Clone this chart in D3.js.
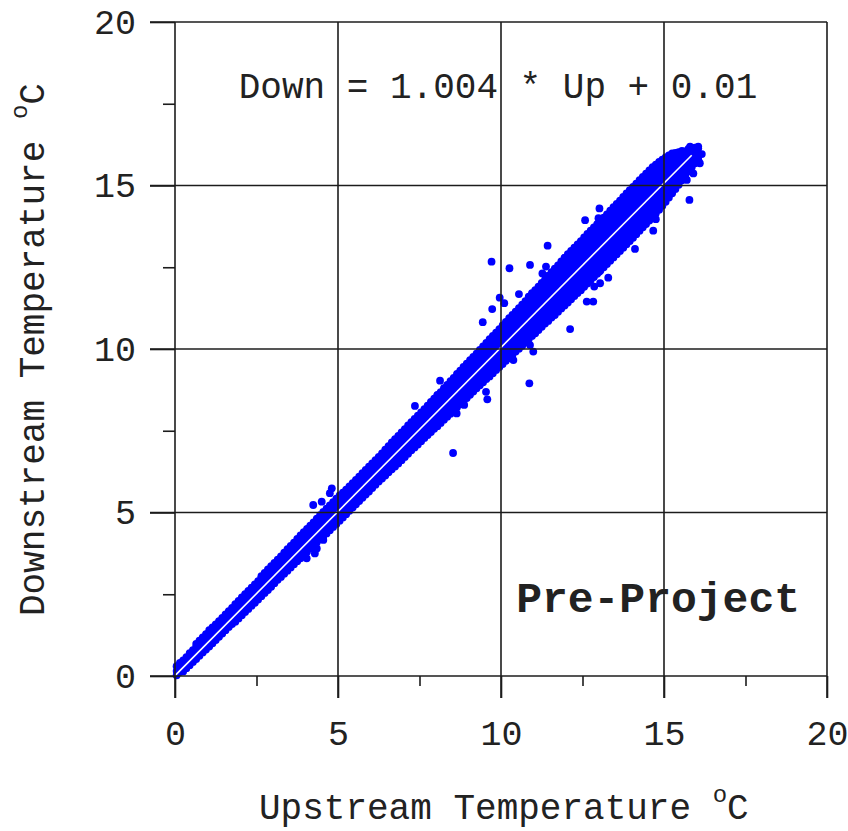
<!DOCTYPE html>
<html>
<head>
<meta charset="utf-8">
<script src="https://cdn.jsdelivr.net/npm/d3@7"></script>
<style>
  body { margin: 0; background: #fff; }
  text { font-family: "Liberation Mono", "Courier New", monospace; fill: #222; }
</style>
</head>
<body>
<script>
const width = 848;
const height = 831;

const majorTicks = [0, 5, 10, 15, 20];
const minorTicks = [2.5, 7.5, 12.5, 17.5];

// regression shown on the chart: Down = 1.004 * Up + 0.01
const slope = 1.004;
const intercept = 0.01;
const fitRange = [0, 15.85];

// each row: upstream value, then the downstream values seen at it
const bandRows = [
  [0.05, 0.02, 0.15, 0.3],
  [0.25, 0.14, 0.3, 0.48],
  [0.45, 0.33, 0.5, 0.7],
  [0.65, 0.52, 0.7, 0.88, 0.98],
  [0.85, 0.72, 0.9, 1.06, 1.18],
  [1.05, 0.9, 1.08, 1.25, 1.4],
  [1.25, 1.1, 1.28, 1.45, 1.58],
  [1.45, 1.3, 1.47, 1.63, 1.78],
  [1.65, 1.5, 1.66, 1.84, 1.98],
  [1.85, 1.66, 1.85, 2.03, 2.2],
  [2.05, 1.86, 2.04, 2.22, 2.4],
  [2.25, 2.05, 2.24, 2.42, 2.6],
  [2.45, 2.24, 2.42, 2.6, 2.8],
  [2.65, 2.44, 2.62, 2.8, 3.0, 3.05],
  [2.85, 2.63, 2.82, 3.0, 3.18, 3.26],
  [3.05, 2.84, 3.02, 3.2, 3.38, 3.46],
  [3.25, 3.03, 3.22, 3.4, 3.58, 3.66],
  [3.45, 3.22, 3.42, 3.6, 3.78, 3.88],
  [3.65, 3.42, 3.62, 3.8, 3.98, 4.08],
  [3.85, 3.6, 3.8, 4.0, 4.18, 4.3],
  [4.05, 3.8, 4.0, 4.2, 4.38, 4.5],
  [4.25, 4.0, 4.2, 4.4, 4.58, 4.7],
  [4.45, 4.18, 4.4, 4.6, 4.78, 4.92],
  [4.65, 4.36, 4.58, 4.8, 5.0, 5.12],
  [4.85, 4.56, 4.78, 5.0, 5.2, 5.32],
  [5.05, 4.75, 4.96, 5.18, 5.38, 5.52],
  [5.25, 4.95, 5.16, 5.38, 5.58, 5.7],
  [5.45, 5.15, 5.36, 5.58, 5.78, 5.9],
  [5.65, 5.35, 5.56, 5.78, 5.98, 6.1],
  [5.85, 5.55, 5.76, 5.98, 6.18, 6.3],
  [6.05, 5.75, 5.96, 6.18, 6.38, 6.5],
  [6.25, 5.95, 6.16, 6.38, 6.58, 6.7],
  [6.45, 6.13, 6.36, 6.58, 6.78, 6.92],
  [6.65, 6.32, 6.55, 6.78, 6.98, 7.14],
  [6.85, 6.5, 6.74, 6.96, 7.18, 7.34],
  [7.05, 6.7, 6.94, 7.16, 7.38, 7.55],
  [7.25, 6.9, 7.12, 7.35, 7.58, 7.76],
  [7.45, 7.08, 7.3, 7.55, 7.78, 7.96],
  [7.65, 7.28, 7.5, 7.74, 7.98, 8.16],
  [7.85, 7.46, 7.68, 7.92, 8.16, 8.38],
  [8.05, 7.64, 7.86, 8.1, 8.34, 8.58, 8.6],
  [8.25, 7.84, 8.06, 8.3, 8.54, 8.76, 8.8],
  [8.45, 8.02, 8.25, 8.5, 8.74, 8.96, 9.02],
  [8.65, 8.22, 8.45, 8.7, 8.94, 9.16, 9.24],
  [8.85, 8.4, 8.64, 8.88, 9.12, 9.36, 9.45],
  [9.05, 8.6, 8.84, 9.08, 9.32, 9.56, 9.66],
  [9.25, 8.8, 9.04, 9.28, 9.52, 9.76, 9.86],
  [9.45, 8.98, 9.22, 9.46, 9.7, 9.94, 10.08],
  [9.65, 9.16, 9.4, 9.64, 9.9, 10.14, 10.3],
  [9.85, 9.36, 9.6, 9.84, 10.1, 10.34, 10.5],
  [10.05, 9.54, 9.78, 10.04, 10.28, 10.52, 10.72],
  [10.25, 9.72, 9.96, 10.22, 10.48, 10.72, 10.94],
  [10.45, 9.92, 10.16, 10.42, 10.68, 10.92, 11.14],
  [10.65, 10.1, 10.34, 10.6, 10.86, 11.12, 11.36],
  [10.85, 10.3, 10.54, 10.8, 11.06, 11.32, 11.56, 11.6],
  [11.05, 10.48, 10.72, 10.98, 11.24, 11.5, 11.74, 11.8],
  [11.25, 10.68, 10.92, 11.18, 11.44, 11.7, 11.94, 12.02],
  [11.45, 10.86, 11.1, 11.36, 11.62, 11.88, 12.14, 12.24],
  [11.65, 11.04, 11.3, 11.56, 11.82, 12.08, 12.34, 12.46],
  [11.85, 11.24, 11.48, 11.74, 12.0, 12.26, 12.52, 12.68],
  [12.05, 11.42, 11.68, 11.94, 12.2, 12.46, 12.72, 12.9],
  [12.25, 11.62, 11.86, 12.12, 12.38, 12.64, 12.9, 13.1],
  [12.45, 11.8, 12.06, 12.32, 12.58, 12.84, 13.1, 13.3],
  [12.65, 12.0, 12.26, 12.52, 12.78, 13.04, 13.3, 13.52],
  [12.85, 12.2, 12.46, 12.72, 12.98, 13.24, 13.5, 13.72],
  [13.05, 12.4, 12.66, 12.92, 13.18, 13.44, 13.7, 13.92],
  [13.25, 12.6, 12.86, 13.12, 13.38, 13.64, 13.9, 14.12],
  [13.45, 12.8, 13.06, 13.32, 13.58, 13.84, 14.1, 14.34],
  [13.65, 13.0, 13.26, 13.52, 13.78, 14.04, 14.3, 14.54],
  [13.85, 13.2, 13.46, 13.72, 13.98, 14.24, 14.5, 14.76],
  [14.05, 13.4, 13.66, 13.92, 14.18, 14.44, 14.7, 14.96],
  [14.25, 13.62, 13.86, 14.12, 14.38, 14.64, 14.9, 15.16],
  [14.45, 13.82, 14.08, 14.32, 14.58, 14.84, 15.1, 15.36],
  [14.65, 14.04, 14.28, 14.52, 14.78, 15.04, 15.3, 15.56],
  [14.85, 14.26, 14.5, 14.74, 14.98, 15.24, 15.5, 15.72],
  [15.05, 14.5, 14.72, 14.96, 15.2, 15.44, 15.68, 15.86],
  [15.25, 14.76, 14.98, 15.2, 15.42, 15.64, 15.86, 15.98],
  [15.45, 15.02, 15.22, 15.44, 15.64, 15.84, 16.02],
  [15.65, 15.3, 15.48, 15.66, 15.86, 16.04],
  [15.85, 15.56, 15.74, 15.92, 16.1],
  [16.05, 15.8, 15.98, 16.14]
];

// readings taken between the rows above
const bandRowsMid = [
  [0.15, 0.12, 0.25, 0.4],
  [0.35, 0.24, 0.4, 0.58],
  [0.55, 0.43, 0.6, 0.79],
  [0.75, 0.62, 0.8, 0.98, 1.08],
  [0.95, 0.81, 1.0, 1.16, 1.28],
  [1.15, 1.0, 1.18, 1.35, 1.49],
  [1.35, 1.2, 1.38, 1.55, 1.68],
  [1.55, 1.4, 1.57, 1.74, 1.88],
  [1.75, 1.59, 1.76, 1.94, 2.08],
  [1.95, 1.76, 1.95, 2.13, 2.3],
  [2.15, 1.96, 2.14, 2.32, 2.5],
  [2.35, 2.15, 2.34, 2.52, 2.7],
  [2.55, 2.34, 2.52, 2.7, 2.9],
  [2.75, 2.54, 2.72, 2.9, 3.1, 3.15],
  [2.95, 2.73, 2.92, 3.1, 3.28, 3.36],
  [3.15, 2.94, 3.12, 3.3, 3.48, 3.56],
  [3.35, 3.13, 3.32, 3.5, 3.68, 3.77],
  [3.55, 3.32, 3.52, 3.7, 3.88, 3.98],
  [3.75, 3.51, 3.72, 3.9, 4.08, 4.19],
  [3.95, 3.7, 3.9, 4.1, 4.28, 4.4],
  [4.15, 3.9, 4.1, 4.3, 4.48, 4.6],
  [4.35, 4.09, 4.3, 4.5, 4.68, 4.81],
  [4.55, 4.28, 4.5, 4.7, 4.88, 5.02],
  [4.75, 4.46, 4.68, 4.9, 5.1, 5.22],
  [4.95, 4.65, 4.88, 5.1, 5.3, 5.42],
  [5.15, 4.85, 5.06, 5.28, 5.48, 5.61],
  [5.35, 5.05, 5.26, 5.48, 5.68, 5.8],
  [5.55, 5.25, 5.46, 5.68, 5.88, 6.0],
  [5.75, 5.45, 5.66, 5.88, 6.08, 6.2],
  [5.95, 5.64, 5.86, 6.08, 6.28, 6.4],
  [6.15, 5.85, 6.06, 6.28, 6.48, 6.6],
  [6.35, 6.04, 6.26, 6.48, 6.68, 6.81],
  [6.55, 6.23, 6.46, 6.68, 6.88, 7.03],
  [6.75, 6.41, 6.65, 6.88, 7.08, 7.24],
  [6.95, 6.6, 6.84, 7.06, 7.28, 7.45],
  [7.15, 6.8, 7.04, 7.26, 7.48, 7.66],
  [7.35, 6.99, 7.22, 7.45, 7.68, 7.86],
  [7.55, 7.18, 7.4, 7.65, 7.88, 8.06],
  [7.75, 7.37, 7.6, 7.84, 8.08, 8.27],
  [7.95, 7.56, 7.78, 8.02, 8.26, 8.48],
  [8.15, 7.74, 7.96, 8.2, 8.44, 8.68],
  [8.35, 7.93, 8.16, 8.4, 8.64, 8.86, 8.9],
  [8.55, 8.12, 8.35, 8.6, 8.84, 9.06, 9.12],
  [8.75, 8.31, 8.55, 8.8, 9.04, 9.26, 9.34],
  [8.95, 8.5, 8.74, 8.98, 9.22, 9.46, 9.55],
  [9.15, 8.7, 8.94, 9.18, 9.42, 9.66, 9.76],
  [9.35, 8.89, 9.14, 9.38, 9.62, 9.86, 9.97],
  [9.55, 9.08, 9.32, 9.56, 9.8, 10.04, 10.19],
  [9.75, 9.26, 9.5, 9.74, 10.0, 10.24, 10.4],
  [9.95, 9.45, 9.7, 9.94, 10.2, 10.44, 10.61],
  [10.15, 9.64, 9.88, 10.14, 10.38, 10.62, 10.83],
  [10.35, 9.82, 10.06, 10.32, 10.58, 10.82, 11.04],
  [10.55, 10.01, 10.26, 10.52, 10.78, 11.02, 11.25],
  [10.75, 10.2, 10.44, 10.7, 10.96, 11.22, 11.46],
  [10.95, 10.4, 10.64, 10.9, 11.16, 11.42, 11.66, 11.71],
  [11.15, 10.58, 10.82, 11.08, 11.34, 11.6, 11.84, 11.91],
  [11.35, 10.78, 11.02, 11.28, 11.54, 11.8, 12.04, 12.12],
  [11.55, 10.96, 11.2, 11.46, 11.72, 11.98, 12.24, 12.35],
  [11.75, 11.14, 11.4, 11.66, 11.92, 12.18, 12.44, 12.56],
  [11.95, 11.33, 11.58, 11.84, 12.1, 12.36, 12.62, 12.79],
  [12.15, 11.52, 11.78, 12.04, 12.3, 12.56, 12.82, 13.0],
  [12.35, 11.71, 11.96, 12.22, 12.48, 12.74, 13.0, 13.2],
  [12.55, 11.9, 12.16, 12.42, 12.68, 12.94, 13.2, 13.41],
  [12.75, 12.1, 12.36, 12.62, 12.88, 13.14, 13.4, 13.62],
  [12.95, 12.3, 12.56, 12.82, 13.08, 13.34, 13.6, 13.82],
  [13.15, 12.5, 12.76, 13.02, 13.28, 13.54, 13.8, 14.02],
  [13.35, 12.7, 12.96, 13.22, 13.48, 13.74, 14.0, 14.23],
  [13.55, 12.9, 13.16, 13.42, 13.68, 13.94, 14.2, 14.44],
  [13.75, 13.1, 13.36, 13.62, 13.88, 14.14, 14.4, 14.65],
  [13.95, 13.3, 13.56, 13.82, 14.08, 14.34, 14.6, 14.86],
  [14.15, 13.51, 13.76, 14.02, 14.28, 14.54, 14.8, 15.06],
  [14.35, 13.72, 13.96, 14.22, 14.48, 14.74, 15.0, 15.26],
  [14.55, 13.93, 14.18, 14.42, 14.68, 14.94, 15.2, 15.46],
  [14.75, 14.15, 14.39, 14.63, 14.88, 15.14, 15.4, 15.64],
  [14.95, 14.38, 14.61, 14.85, 15.09, 15.34, 15.59, 15.79],
  [15.15, 14.63, 14.85, 15.08, 15.31, 15.54, 15.77, 15.92],
  [15.35, 14.89, 15.1, 15.32, 15.53, 15.74, 15.93, 16.0],
  [15.55, 15.16, 15.35, 15.55, 15.75, 15.95, 16.06],
  [15.75, 15.43, 15.61, 15.79, 15.98, 16.12],
  [15.95, 15.68, 15.86, 16.02, 16.16]
];

// scattered readings off the main band [upstream, downstream]
const strayPoints = [
  [9.71, 12.67], [10.26, 12.47], [10.89, 12.57], [11.38, 12.52], [11.43, 13.16],
  [11.27, 12.31], [10.55, 11.68], [9.96, 11.57], [9.73, 11.22], [9.44, 10.82],
  [10.10, 11.40], [12.12, 10.61], [12.63, 11.45], [12.83, 11.45], [10.87, 8.95],
  [10.38, 9.66], [9.54, 8.69], [9.58, 8.46], [8.13, 9.03], [7.36, 8.26],
  [8.64, 8.03], [8.87, 8.29], [10.99, 9.92], [10.89, 10.12], [12.86, 11.91],
  [13.04, 12.01], [13.29, 12.18], [13.01, 12.36], [14.11, 13.06], [14.67, 13.62],
  [14.75, 13.97], [15.78, 14.56], [13.02, 14.30], [12.58, 13.94], [12.99, 14.0],
  [15.7, 15.17], [15.9, 15.37], [16.1, 15.68], [16.16, 15.96], [15.8, 16.19],
  [16.05, 16.19], [11.84, 11.29], [4.24, 5.23], [4.5, 5.33], [4.81, 5.74],
  [4.75, 5.59], [4.04, 3.6], [4.29, 3.75], [4.35, 3.9], [4.55, 4.16], [8.53, 6.82]
];

const points = bandRows.concat(bandRowsMid)
  .flatMap(([up, ...downs]) => downs.map((d) => [up, d]))
  .concat(strayPoints);

const x = d3.scaleLinear().domain([0, 20]).range([175, 827]);
const y = d3.scaleLinear().domain([0, 20]).range([676, 22]);

const svg = d3.select('body').append('svg')
  .attr('width', width)
  .attr('height', height)
  .attr('viewBox', `0 0 ${width} ${height}`);

const ink = '#1c1c1c';

// observations
svg.append('g')
  .selectAll('circle')
  .data(points)
  .enter()
  .append('circle')
  .attr('cx', (d) => x(d[0]))
  .attr('cy', (d) => y(d[1]))
  .attr('r', 3.9)
  .attr('fill', '#0000ff');

// fitted line
svg.append('line')
  .attr('x1', x(fitRange[0]))
  .attr('y1', y(slope * fitRange[0] + intercept))
  .attr('x2', x(fitRange[1]))
  .attr('y2', y(slope * fitRange[1] + intercept))
  .attr('stroke', '#fff')
  .attr('stroke-width', 1.6);

// grid, drawn over the points
const grid = svg.append('g')
  .attr('stroke', ink)
  .attr('stroke-width', 1.6);

grid.selectAll('line.h')
  .data(majorTicks)
  .enter()
  .append('line')
  .attr('x1', 150)
  .attr('x2', x(20))
  .attr('y1', (d) => y(d))
  .attr('y2', (d) => y(d));

grid.selectAll('line.v')
  .data(majorTicks)
  .enter()
  .append('line')
  .attr('y1', y(20))
  .attr('y2', 698)
  .attr('x1', (d) => x(d))
  .attr('x2', (d) => x(d));

// minor ticks
const yMinor = svg.append('g')
  .attr('transform', `translate(${x(0)},0)`)
  .call(d3.axisLeft(y).tickValues(minorTicks).tickSize(12).tickFormat(''));
const xMinor = svg.append('g')
  .attr('transform', `translate(0,${y(0)})`)
  .call(d3.axisBottom(x).tickValues(minorTicks).tickSize(10).tickFormat(''));

// tick labels
const yAxis = svg.append('g')
  .attr('transform', `translate(${x(0)},0)`)
  .call(d3.axisLeft(y).tickValues(majorTicks).tickSize(25).tickPadding(14).tickFormat(d3.format('d')));
const xAxis = svg.append('g')
  .attr('transform', `translate(0,${y(0)})`)
  .call(d3.axisBottom(x).tickValues(majorTicks).tickSize(22).tickPadding(22).tickFormat(d3.format('d')));

[yMinor, xMinor, yAxis, xAxis].forEach((g) => {
  g.select('.domain').remove();
  g.selectAll('line').attr('stroke', ink).attr('stroke-width', 1.6);
  g.selectAll('text')
    .attr('font-family', '"Liberation Mono", "Courier New", monospace')
    .attr('font-size', 35)
    .attr('fill', '#222');
});

// axis titles
const xTitle = svg.append('text')
  .attr('x', 259)
  .attr('y', 819)
  .attr('font-size', 36);
xTitle.append('tspan').text('Upstream Temperature ');
xTitle.append('tspan').attr('font-size', 24).attr('dy', -17).text('o');
xTitle.append('tspan').attr('dy', 17).text('C');

const yTitle = svg.append('text')
  .attr('transform', 'translate(44,616) rotate(-90)')
  .attr('font-size', 36);
yTitle.append('tspan').text('Downstream Temperature ');
yTitle.append('tspan').attr('font-size', 24).attr('dy', -17).text('o');
yTitle.append('tspan').attr('dy', 17).text('C');

// annotations
svg.append('text')
  .attr('x', x(10) - 3)
  .attr('y', 98)
  .attr('text-anchor', 'middle')
  .attr('font-size', 36)
  .text(`Down = ${slope} * Up + ${intercept}`);

svg.append('text')
  .attr('x', 800)
  .attr('y', 612)
  .attr('text-anchor', 'end')
  .attr('font-size', 43)
  .attr('font-weight', 'bold')
  .text('Pre-Project');
</script>
</body>
</html>
